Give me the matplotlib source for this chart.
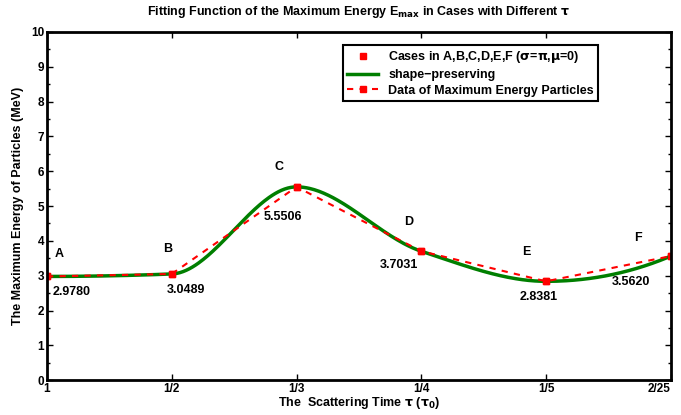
import numpy as np
import matplotlib.pyplot as plt
from matplotlib.ticker import MultipleLocator

plt.rcParams["font.family"] = ["Liberation Sans", "DejaVu Sans"]
plt.rcParams["font.weight"] = "bold"
plt.rcParams["mathtext.default"] = "bf"

cases = ["A", "B", "C", "D", "E", "F"]
tick_labels = ["1", "1/2", "1/3", "1/4", "1/5", "2/25"]
energy = [2.9780, 3.0489, 5.5506, 3.7031, 2.8381, 3.5620]
value_text = ["2.9780", "3.0489", "5.5506", "3.7031", "2.8381", "3.5620"]

# label placement (x, y) for case letters and values
letter_pos = [(1.10, 3.62), (1.97, 3.76), (2.86, 6.12), (3.90, 4.54), (4.84, 3.68), (5.74, 4.08)]
value_pos = [(1.20, 2.53), (2.11, 2.59), (2.89, 4.68), (3.82, 3.30), (4.94, 2.39), (5.68, 2.82)]


def pchip(x, y, xs):
    # shape-preserving piecewise cubic Hermite (like MATLAB pchip)
    x = np.asarray(x, float)
    y = np.asarray(y, float)
    h = np.diff(x)
    delta = np.diff(y) / h
    n = len(x)
    d = np.zeros(n)
    for k in range(1, n - 1):
        if delta[k - 1] * delta[k] > 0:
            w1 = 2 * h[k] + h[k - 1]
            w2 = h[k] + 2 * h[k - 1]
            d[k] = (w1 + w2) / (w1 / delta[k - 1] + w2 / delta[k])

    def end_slope(h0, h1, d0, d1):
        s = ((2 * h0 + h1) * d0 - h0 * d1) / (h0 + h1)
        if np.sign(s) != np.sign(d0):
            s = 0.0
        elif np.sign(d0) != np.sign(d1) and abs(s) > abs(3 * d0):
            s = 3 * d0
        return s

    d[0] = end_slope(h[0], h[1], delta[0], delta[1])
    d[-1] = end_slope(h[-1], h[-2], delta[-1], delta[-2])

    ys = np.empty_like(xs)
    idx = np.clip(np.searchsorted(x, xs) - 1, 0, n - 2)
    for i, xv in enumerate(xs):
        k = idx[i]
        t = (xv - x[k]) / h[k]
        h00 = 2 * t**3 - 3 * t**2 + 1
        h10 = t**3 - 2 * t**2 + t
        h01 = -2 * t**3 + 3 * t**2
        h11 = t**3 - t**2
        ys[i] = h00 * y[k] + h10 * h[k] * d[k] + h01 * y[k + 1] + h11 * h[k] * d[k + 1]
    return ys


xpos = np.arange(1, len(cases) + 1)
xs = np.linspace(1, len(cases), 400)
fit = pchip(xpos, energy, xs)

fig = plt.figure(figsize=(6.81, 4.15), dpi=100)
ax = fig.add_axes([0.069, 0.084, 0.916, 0.839])

ax.plot(xpos, energy, "s", color="red", markersize=4, label=r"Cases in A,B,C,D,E,F ($\sigma$=$\pi$,$\mu$=0)")
ax.plot(xs, fit, "-", color="#007f00", linewidth=2.5, label="shape\u2212preserving")
ax.plot(xpos, energy, "--s", color="red", linewidth=1.5, markersize=4, dashes=(3, 3),
        label="Data of Maximum Energy Particles")

fs = 9
for (lx, ly), c in zip(letter_pos, cases):
    ax.text(lx, ly, c, ha="center", va="center", fontsize=fs, fontweight="bold")
for (vx, vy), v in zip(value_pos, value_text):
    ax.text(vx, vy, v, ha="center", va="center", fontsize=fs, fontweight="bold")

ax.set_xlim(1, 6)
ax.set_ylim(0, 10)
ax.set_xticks(xpos)
ax.set_xticklabels(tick_labels)
ax.set_yticks(range(0, 11))
ax.yaxis.set_minor_locator(MultipleLocator(0.5))
ax.tick_params(direction="in", which="both", top=True, right=True, labelsize=8.5, pad=2)
ax.tick_params(which="major", length=4, width=1)
ax.tick_params(which="minor", length=2, width=1)
ax.get_xticklabels()[-1].set_horizontalalignment("right")
for s in ax.spines.values():
    s.set_linewidth(2)

ax.set_xlabel(r"The  Scattering Time $\tau$ ($\tau_0$)", fontsize=fs, fontweight="bold", labelpad=0)
ax.set_ylabel("The Maximum Energy of Particles (MeV)", fontsize=fs, fontweight="bold", labelpad=5)
ax.set_title(r"Fitting Function of the Maximum Energy E$_{\rm max}$ in Cases with Different $\tau$",
             fontsize=fs, fontweight="bold", pad=12)

leg = ax.legend(loc="upper right", bbox_to_anchor=(0.884, 0.963), fontsize=fs, fancybox=False,
                edgecolor="black", framealpha=1, handlelength=2.5, borderpad=0.35, labelspacing=0.3,
                borderaxespad=0)
leg.get_frame().set_linewidth(1.5)
for t in leg.get_texts():
    t.set_fontweight("bold")

fig.savefig("out.png", dpi=100)
